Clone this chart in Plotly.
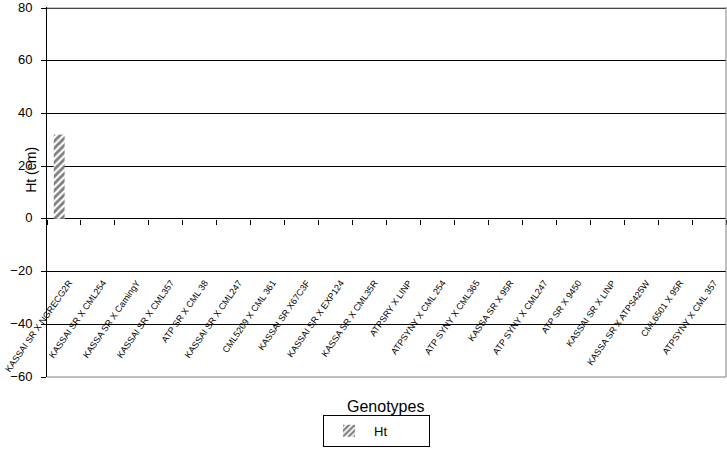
import plotly.graph_objects as go

genotypes = [
    "KASSAI SR X NGRECG2R", "KASSAI SR X CML254", "KASSA SR X CamingY",
    "KASSAI SR X CML357", "ATP SR X CML 38", "KASSAI SR X CML247",
    "CML5209 X CML 361", "KASSAI SR X67C3F", "KASSAI SR X EXP124",
    "KASSA SR X CML35R", "ATPSRY X LINP", "ATPSYNY X CML 254",
    "ATP SYNY X CML365", "KASSA SR X 95R", "ATP SYNY X CML247",
    "ATP SR X 9450", "KASSAI SR X LINP", "KASSA SR X ATPS425W",
    "CML6501 X 95R", "ATPSYNY X CML 357",
]
ht = [32] + [None] * 19
y_ticks = [-60, -40, -20, 0, 20, 40, 60, 80]

FONT = "Liberation Sans, Arial, sans-serif"

Y_MIN, Y_MAX = -60, 80.4

fig = go.Figure()
fig.add_trace(go.Bar(
    x=genotypes, y=ht, name="Ht", showlegend=True,
    width=0.32, offset=-0.3,
    marker=dict(color="white", line=dict(width=0),
                pattern=dict(shape="/", fgcolor="black", bgcolor="white",
                             size=5, solidity=0.55)),
))

fig.update_layout(
    width=727, height=452,
    margin=dict(l=47, r=1, t=7, b=75, autoexpand=False),
    paper_bgcolor="white", plot_bgcolor="white",
    font=dict(family=FONT, color="black"),
    xaxis=dict(
        type="category", categoryorder="array", categoryarray=genotypes,
        anchor="free", position=(0 - Y_MIN) / (Y_MAX - Y_MIN),
        showline=False, showgrid=False, zeroline=False,
        ticks="outside", tickson="boundaries", ticklen=5, tickcolor="black",
        tickangle=-55, ticklabelstandoff=56, ticklabelshift=5,
        tickfont=dict(size=9), automargin=False,
    ),
    yaxis=dict(
        range=[Y_MIN, Y_MAX], tickmode="array", tickvals=y_ticks,
        showgrid=True, gridcolor="black", gridwidth=1,
        zeroline=True, zerolinecolor="black", zerolinewidth=1,
        showline=True, linecolor="black", linewidth=1,
        ticks="outside", ticklen=5, tickcolor="black",
        ticklabelstandoff=6, ticklabelshift=-1, ticklabeloverflow="allow",
        tickfont=dict(size=13), automargin=False,
    ),
    legend=dict(
        orientation="h",
        x=0.4065, xanchor="left", y=-0.1019, yanchor="top",
        bordercolor="black", borderwidth=1, bgcolor="white",
        font=dict(size=13), itemwidth=40, entrywidth=50,
    ),
    shapes=[
        dict(type="line", xref="paper", yref="paper", x0=1, x1=1, y0=0, y1=1,
             line=dict(color="#808080", width=1)),
        dict(type="line", xref="paper", yref="paper", x0=0, x1=1, y0=0, y1=0,
             line=dict(color="#808080", width=1)),
        dict(type="line", xref="paper", yref="y", x0=0, x1=1, y0=80, y1=80,
             line=dict(color="#808080", width=1)),
    ],
    annotations=[
        dict(text="Genotypes", xref="paper", yref="paper", x=0.498, y=-0.0804,
             xanchor="center", yanchor="middle", showarrow=False,
             font=dict(size=16)),
        dict(text="Ht (cm)", xref="paper", yref="paper", x=-0.0236, y=0.560,
             xanchor="center", yanchor="middle", showarrow=False, textangle=-90,
             font=dict(size=14)),
    ],
)

fig.write_html(
    "out.html",
    config={"displayModeBar": False},
    post_script="document.body.style.margin='0';document.body.style.overflow='hidden';",
)
